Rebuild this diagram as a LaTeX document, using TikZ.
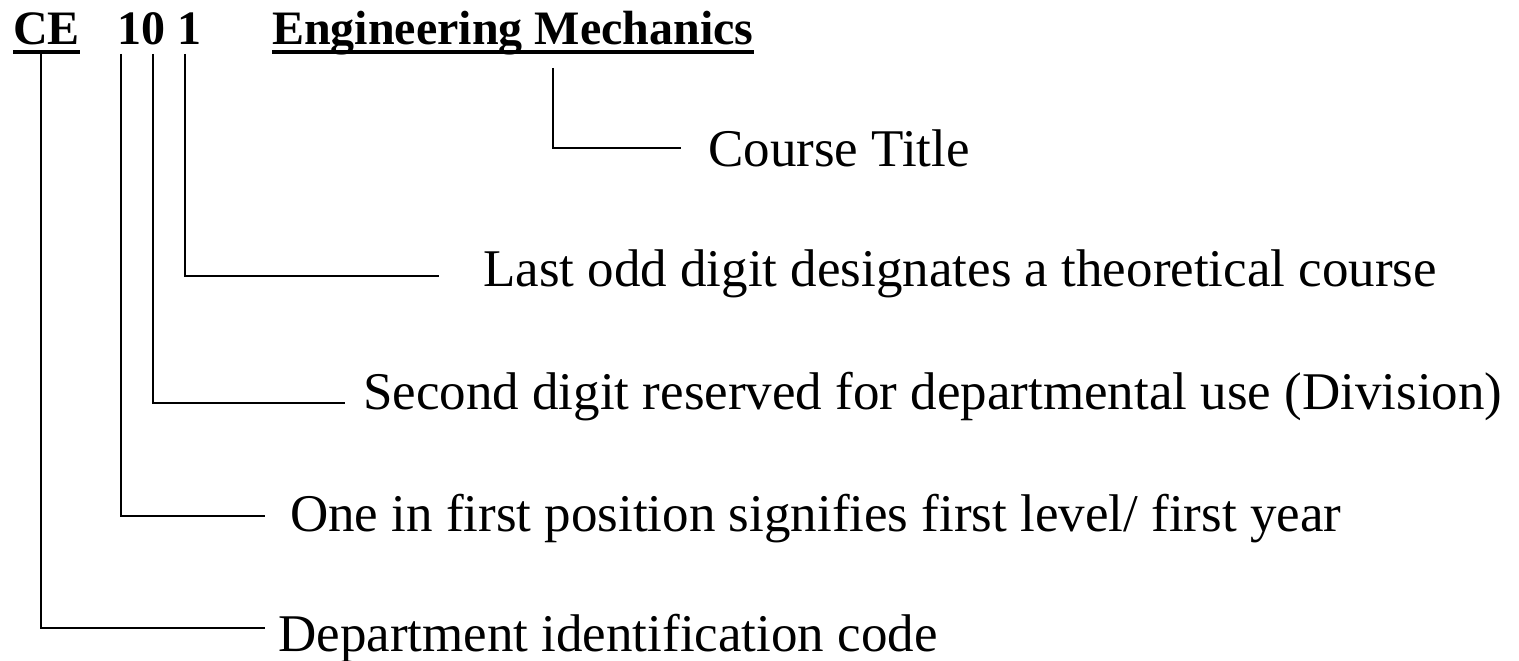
\documentclass[tikz,border=0pt]{standalone}
\usepackage{fontspec}
\setmainfont{Liberation Serif}
\begin{document}
\begin{tikzpicture}[x=1pt,y=-1pt,
  head/.style={inner sep=0pt,anchor=base west,font=\fontsize{48}{56}\selectfont\bfseries},
  lbl/.style={inner sep=0pt,anchor=base west,font=\fontsize{53}{62}\selectfont},
  conn/.style={line width=2.6pt},
  uline/.style={line width=4pt}]
\useasboundingbox (0,0) rectangle (1519,661);
% header
\node[head] (ce) at (13,45) {CE};
\node[head] (d10) at (117,45) {10};
\node[head] (d1) at (177,45) {1};
\node[head] (title) at (272,45) {Engineering Mechanics};
\draw[uline] ([yshift=-7pt]ce.base west) -- ([yshift=-7pt]ce.base east);
\draw[uline] ([yshift=-7pt]title.base west) -- ([yshift=-7pt]title.base east);
% labels
\node[lbl] (course) at (708,166) {Course Title};
\node[lbl] (last) at (483,286) {Last odd digit designates a theoretical course};
\node[lbl] (second) at (363,409) {Second digit reserved for departmental use (Division)};
\node[lbl] (one) at (290,531) {One in first position signifies first level/ first year};
\node[lbl] (dept) at (278,651) {Department identification code};
% connector start points
\coordinate (pCE) at (41,54);
\coordinate (p1) at (121,54);
\coordinate (p0) at (153,54);
\coordinate (pU) at (185,54);
\coordinate (pT) at (553,68);
% connector end points
\coordinate (eT) at (681,148);
\coordinate (eU) at (439,276);
\coordinate (e0) at (345,403);
\coordinate (e1) at (265,516);
\coordinate (eCE) at (265,628);
\draw[conn] (pT) |- (eT);
\draw[conn] (pU) |- (eU);
\draw[conn] (p0) |- (e0);
\draw[conn] (p1) |- (e1);
\draw[conn] (pCE) |- (eCE);
\end{tikzpicture}
\end{document}
